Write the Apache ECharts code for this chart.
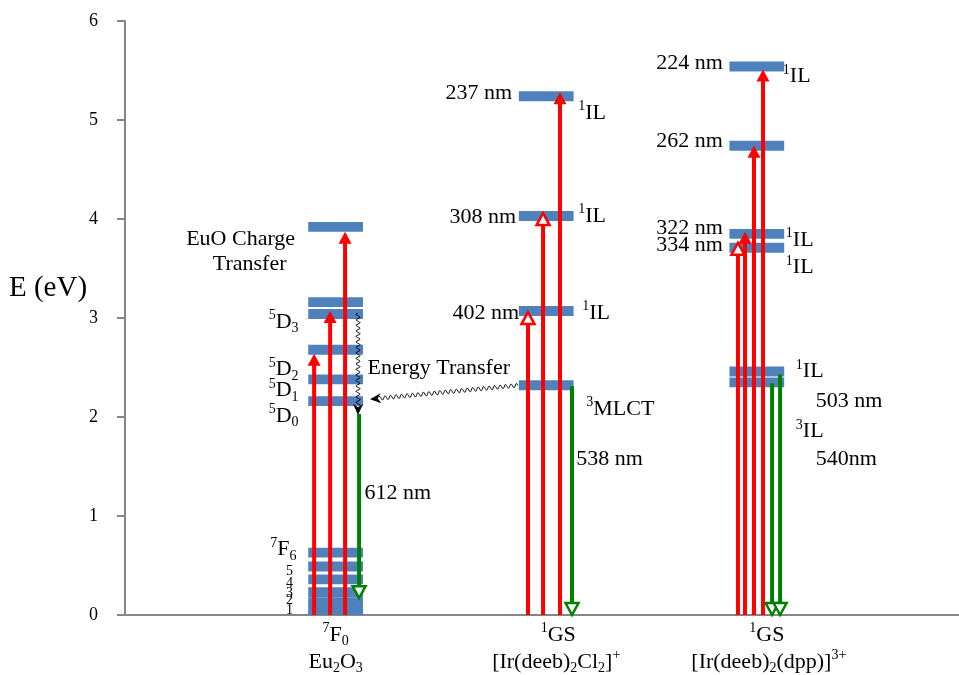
<!DOCTYPE html>
<html>
<head>
<meta charset="utf-8">
<script src="https://cdn.jsdelivr.net/npm/echarts@6/dist/echarts.min.js"></script>
<style>
  html, body { margin: 0; padding: 0; background: #fff; }
  #chart { width: 959px; height: 675px; }
</style>
</head>
<body>
<div id="chart"></div>
<script>
// ---------------- data (energies in eV) ----------------
const energyTicks = [0, 1, 2, 3, 4, 5, 6];

// Eu2O3: 7F0..7F6, 5D0..5D3, upper 5L level, EuO charge transfer band
const euLevels = [0, 0.05, 0.13, 0.23, 0.36, 0.49, 0.63, 2.16, 2.38, 2.68, 3.04, 3.16, 3.92];
// [Ir(deeb)2Cl2]+: 3MLCT, 402 nm, 308 nm, 237 nm
const ir1Levels = [2.32, 3.07, 4.03, 5.24];
// [Ir(deeb)2(dpp)]3+: 3IL (540 nm), 1IL (503 nm), 334, 322, 262, 224 nm
const ir2Levels = [2.35, 2.46, 3.71, 3.85, 4.74, 5.54];

// excitation arrows: ground state -> end energy
const euExcitation = [2.64, 3.07, 3.87];
const ir1Excitation = [3.06, 4.06, 5.28];
const ir2Excitation = [3.76, 3.87, 4.74, 5.51];

// emission arrows: [start, end]
const euEmission = [[2.03, 0.17]];
const ir1Emission = [[2.31, 0]];
const ir2Emission = [[2.34, 0], [2.43, 0]];

// non-radiative steps: 5D3 -> 5D0 relaxation, 3MLCT -> 5D0 energy transfer [start, end]
const euRelaxation = [3.05, 2.02];
const energyTransfer = [2.32, 2.18];

// ---------------- layout ----------------
const FONT = '"Liberation Serif", "Times New Roman", serif';
const RED = '#ff0000', GREEN = '#008000', BLUE = '#4f81bd', AXIS = '#868686';
const colX = [2, 4, 6];            // column centres on the hidden x scale
const X_MAX = 7.92;
const levelHalfWidth = 0.26;
const levelThickness = 0.1;

const euExcX = [-0.204, -0.052, 0.09];
const ir1ExcX = [-0.173, -0.03, 0.131];
const ir2ExcX = [-0.179, -0.112, -0.027, 0.059];
const ir1ExcOpen = [true, true, false];
const ir2ExcOpen = [true, false, false, false];
const euEmX = [0.223];
const ir1EmX = [0.245];
const ir2EmX = [0.145, 0.221];
const relaxX = colX[0] + 0.213;
const transferX = [colX[1] - 0.268, colX[0] + 0.327];

// ---------------- series data ----------------
const levelData = [];
euLevels.forEach(e => levelData.push([colX[0], e]));
ir1Levels.forEach(e => levelData.push([colX[1], e]));
ir2Levels.forEach(e => levelData.push([colX[2], e]));

// [x, from, to, kind]  kind 0: red filled head, 1: red open head, 2: green open head
const arrowData = [];
euExcitation.forEach((e, i) => arrowData.push([colX[0] + euExcX[i], 0, e, 0]));
ir1Excitation.forEach((e, i) => arrowData.push([colX[1] + ir1ExcX[i], 0, e, ir1ExcOpen[i] ? 1 : 0]));
ir2Excitation.forEach((e, i) => arrowData.push([colX[2] + ir2ExcX[i], 0, e, ir2ExcOpen[i] ? 1 : 0]));
euEmission.forEach((p, i) => arrowData.push([colX[0] + euEmX[i], p[0], p[1], 2]));
ir1Emission.forEach((p, i) => arrowData.push([colX[1] + ir1EmX[i], p[0], p[1], 2]));
ir2Emission.forEach((p, i) => arrowData.push([colX[2] + ir2EmX[i], p[0], p[1], 2]));

// [x0, e0, x1, e1]
const wavyData = [
  [relaxX, euRelaxation[0], relaxX, euRelaxation[1]],
  [transferX[0], energyTransfer[0], transferX[1], energyTransfer[1]]
];

// text annotations anchored at (x, energy), offsets in px
const annotations = [
  { x: colX[0], e: euLevels[12], text: '{t|EuO Charge}', dx: -95, dy: 12, align: 'center' },
  { x: colX[0], e: euLevels[12], text: '{t|Transfer}', dx: -86, dy: 37, align: 'center' },
  { x: colX[0], e: euLevels[10], text: '{sup|5}{t|D}{sub|3}', dx: -37, dy: 8, align: 'right' },
  { x: colX[0], e: euLevels[9], text: '{sup|5}{t|D}{sub|2}', dx: -37, dy: 20, align: 'right' },
  { x: colX[0], e: euLevels[8], text: '{sup|5}{t|D}{sub|1}', dx: -37, dy: 11, align: 'right' },
  { x: colX[0], e: euLevels[7], text: '{sup|5}{t|D}{sub|0}', dx: -37, dy: 15, align: 'right' },
  { x: colX[0], e: euLevels[6], text: '{sup|7}{t|F}{sub|6}', dx: -39, dy: -3, align: 'right' },
  { x: colX[0], e: euLevels[5], text: '{s|5}', dx: -46, dy: 5, align: 'center' },
  { x: colX[0], e: euLevels[4], text: '{s|4}', dx: -46, dy: 4, align: 'center' },
  { x: colX[0], e: euLevels[3], text: '{s|3}', dx: -46, dy: 1, align: 'center' },
  { x: colX[0], e: euLevels[2], text: '{s|2}', dx: -46, dy: -2, align: 'center' },
  { x: colX[0], e: euLevels[1], text: '{s|1}', dx: -46, dy: 0, align: 'center' },
  { x: colX[0], e: euEmission[0][0], text: '{t|612 nm}', dx: 29, dy: 79, align: 'left' },
  { x: colX[0], e: energyTransfer[0], text: '{t|Energy Transfer}', dx: 32, dy: -17, align: 'left' },
  { x: colX[0], e: 0, text: '{sup|7}{t|F}{sub|0}', dx: 0, dy: 20, align: 'center' },
  { x: colX[0], e: 0, text: '{t|Eu}{sub|2}{t|O}{sub|3}', dx: 0, dy: 47, align: 'center' },

  { x: colX[1], e: ir1Levels[3], text: '{t|237 nm}', dx: -34, dy: -3, align: 'right' },
  { x: colX[1], e: ir1Levels[3], text: '{sup|1}{t|IL}', dx: 32, dy: 17, align: 'left' },
  { x: colX[1], e: ir1Levels[2], text: '{t|308 nm}', dx: -30, dy: 1, align: 'right' },
  { x: colX[1], e: ir1Levels[2], text: '{sup|1}{t|IL}', dx: 32, dy: 0, align: 'left' },
  { x: colX[1], e: ir1Levels[1], text: '{t|402 nm}', dx: -27, dy: 2, align: 'right' },
  { x: colX[1], e: ir1Levels[1], text: '{sup|1}{t|IL}', dx: 36, dy: 2, align: 'left' },
  { x: colX[1], e: ir1Levels[0], text: '{sup|3}{t|MLCT}', dx: 40, dy: 24, align: 'left' },
  { x: colX[1], e: ir1Levels[0], text: '{t|538 nm}', dx: 30, dy: 74, align: 'left' },
  { x: colX[1], e: 0, text: '{sup|1}{t|GS}', dx: 12, dy: 20, align: 'center' },
  { x: colX[1], e: 0, text: '{t|[Ir(deeb)}{sub|2}{t|Cl}{sub|2}{t|]}{sup|+}', dx: 10, dy: 47, align: 'center' },

  { x: colX[2], e: ir2Levels[5], text: '{t|224 nm}', dx: -34, dy: -3, align: 'right' },
  { x: colX[2], e: ir2Levels[5], text: '{sup|1}{t|IL}', dx: 26, dy: 10, align: 'left' },
  { x: colX[2], e: ir2Levels[4], text: '{t|262 nm}', dx: -34, dy: -5, align: 'right' },
  { x: colX[2], e: ir2Levels[3], text: '{t|322 nm}', dx: -34, dy: -6, align: 'right' },
  { x: colX[2], e: ir2Levels[2], text: '{t|334 nm}', dx: -34, dy: -2, align: 'right' },
  { x: colX[2], e: ir2Levels[3], text: '{sup|1}{t|IL}', dx: 29, dy: 6, align: 'left' },
  { x: colX[2], e: ir2Levels[2], text: '{sup|1}{t|IL}', dx: 29, dy: 20, align: 'left' },
  { x: colX[2], e: ir2Levels[1], text: '{sup|1}{t|IL}', dx: 39, dy: 0, align: 'left' },
  { x: colX[2], e: ir2Levels[1], text: '{t|503 nm}', dx: 59, dy: 30, align: 'left' },
  { x: colX[2], e: ir2Levels[0], text: '{sup|3}{t|IL}', dx: 39, dy: 49, align: 'left' },
  { x: colX[2], e: ir2Levels[0], text: '{t|540nm}', dx: 59, dy: 77, align: 'left' },
  { x: colX[2], e: 0, text: '{sup|1}{t|GS}', dx: 10, dy: 20, align: 'center' },
  { x: colX[2], e: 0, text: '{t|[Ir(deeb)}{sub|2}{t|(dpp)]}{sup|3+}', dx: 12, dy: 47, align: 'center' }
];

const rich = {
  t:   { fontFamily: FONT, fontSize: 22, lineHeight: 27, fill: '#000' },
  sup: { fontFamily: FONT, fontSize: 14, lineHeight: 14, verticalAlign: 'top', fill: '#000' },
  sub: { fontFamily: FONT, fontSize: 14, lineHeight: 14, verticalAlign: 'bottom', fill: '#000' },
  s:   { fontFamily: FONT, fontSize: 14, lineHeight: 14, fill: '#000' }
};

// ---------------- renderers ----------------
function renderLevel(params, api) {
  const x = api.value(0), e = api.value(1);
  const p0 = api.coord([x - levelHalfWidth, e + levelThickness / 2]);
  const p1 = api.coord([x + levelHalfWidth, Math.max(e - levelThickness / 2, 0)]);
  return {
    type: 'rect',
    shape: { x: p0[0], y: p0[1], width: p1[0] - p0[0], height: p1[1] - p0[1] },
    style: { fill: BLUE }
  };
}

function renderArrow(params, api) {
  const x = api.value(0), e0 = api.value(1), e1 = api.value(2), kind = api.value(3);
  const a = api.coord([x, e0]);
  const b = api.coord([x, e1]);
  const color = kind === 2 ? GREEN : RED;
  const dir = b[1] < a[1] ? -1 : 1;
  const headLen = 12, headHalf = 6.5;
  const baseY = b[1] - dir * headLen;
  const tri = [[b[0], b[1]], [b[0] - headHalf, baseY], [b[0] + headHalf, baseY]];
  const children = [{
    type: 'line',
    shape: { x1: a[0], y1: a[1], x2: b[0], y2: kind === 0 ? baseY + dir * 2 : baseY },
    style: { stroke: color, lineWidth: 4 }
  }];
  if (kind === 0) {
    children.push({ type: 'polygon', shape: { points: tri }, style: { fill: color } });
  } else {
    children.push({ type: 'polygon', shape: { points: tri }, style: { fill: '#fff', stroke: color, lineWidth: 2.5 } });
  }
  return { type: 'group', children };
}

function renderWavy(params, api) {
  const a = api.coord([api.value(0), api.value(1)]);
  const b = api.coord([api.value(2), api.value(3)]);
  const dx = b[0] - a[0], dy = b[1] - a[1];
  const len = Math.sqrt(dx * dx + dy * dy);
  const ux = dx / len, uy = dy / len, nx = -uy, ny = ux;
  const headLen = 11, headHalf = 5, amp = 2, wl = 5.5;
  const pts = [];
  for (let s = 0; s <= len - headLen + 2; s += 0.5) {
    const w = amp * Math.sin(2 * Math.PI * s / wl);
    pts.push([a[0] + ux * s + nx * w, a[1] + uy * s + ny * w]);
  }
  const base = [b[0] - ux * headLen, b[1] - uy * headLen];
  const notch = [b[0] - ux * headLen * 0.7, b[1] - uy * headLen * 0.7];
  const head = [
    [b[0], b[1]],
    [base[0] + nx * headHalf, base[1] + ny * headHalf],
    notch,
    [base[0] - nx * headHalf, base[1] - ny * headHalf]
  ];
  return {
    type: 'group',
    children: [
      { type: 'polyline', shape: { points: pts }, style: { stroke: '#000', lineWidth: 1, fill: null } },
      { type: 'polygon', shape: { points: head }, style: { fill: '#000' } }
    ]
  };
}

function renderText(params, api) {
  const ann = annotations[params.dataIndex];
  const p = api.coord([api.value(0), api.value(1)]);
  return {
    type: 'text',
    x: p[0] + ann.dx,
    y: p[1] + ann.dy,
    style: {
      text: ann.text,
      rich: rich,
      fontFamily: FONT,
      fontSize: 22,
      fill: '#000',
      align: ann.align,
      verticalAlign: 'middle'
    }
  };
}

// ---------------- chart ----------------
const chart = echarts.init(document.getElementById('chart'), null, { renderer: 'canvas' });
chart.setOption({
  animation: false,
  backgroundColor: '#fff',
  grid: { left: 125, right: 0, top: 21, bottom: 60 },
  xAxis: {
    type: 'value', min: 0, max: X_MAX,
    axisLine: { show: true, lineStyle: { color: AXIS, width: 2 } },
    axisTick: { show: false }, axisLabel: { show: false }, splitLine: { show: false }
  },
  yAxis: {
    type: 'value',
    min: energyTicks[0], max: energyTicks[energyTicks.length - 1], interval: 1,
    axisLine: { show: true, lineStyle: { color: AXIS, width: 2 } },
    axisTick: { show: true, length: 8, lineStyle: { color: AXIS, width: 2 } },
    axisLabel: { color: '#000', fontFamily: FONT, fontSize: 18, margin: 27 },
    splitLine: { show: false }
  },
  graphic: [{
    type: 'text', left: 9, top: 274,
    style: { text: 'E (eV)', fontFamily: FONT, fontSize: 29, fill: '#000' }
  }],
  series: [
    { type: 'custom', renderItem: renderLevel, data: levelData, silent: true },
    { type: 'custom', renderItem: renderArrow, data: arrowData, silent: true },
    { type: 'custom', renderItem: renderWavy, data: wavyData, silent: true },
    { type: 'custom', renderItem: renderText, data: annotations.map(a => [a.x, a.e]), silent: true }
  ]
});
</script>
</body>
</html>
